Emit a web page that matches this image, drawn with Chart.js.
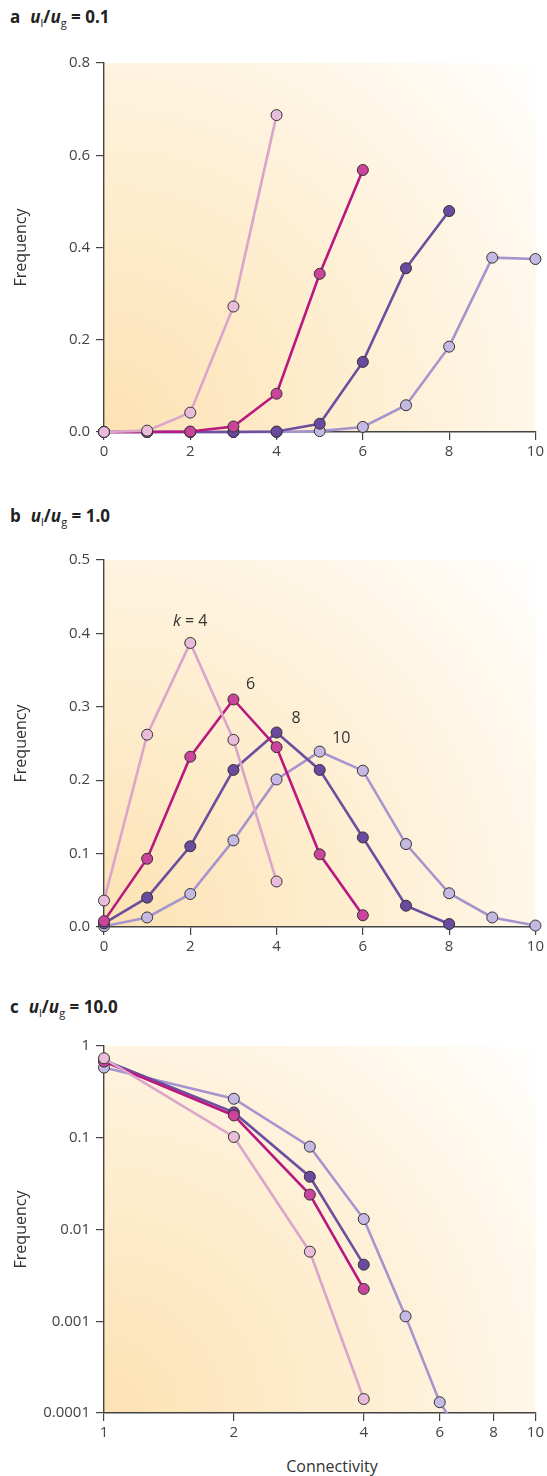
<!DOCTYPE html>
<html>
<head>
<meta charset="utf-8">
<script src="https://cdn.jsdelivr.net/npm/chart.js@4.4.1/dist/chart.umd.min.js"></script>
<style>
  body { margin: 0; background: #fff; width: 547px; height: 1476px; position: relative; overflow: hidden; font-family: 'Open Sans', sans-serif; }
  .panel { position: absolute; left: 0; width: 547px; }
  .ttl { position: absolute; left: 10px; font-size: 17px; font-weight: 700; color: #222; white-space: nowrap; }
  .ttl .lt { margin-right: 10px; }
  .ttl i { font-style: italic; }
  .ttl sub { font-size: 11px; font-weight: 400; vertical-align: -4px; line-height: 0; }
  #xlab { position: absolute; top: 1455px; left: 272px; width: 120px; text-align: center; font-size: 16px; color: #333; }
</style>
</head>
<body>
<div class="ttl" style="top:5px"><span class="lt">a</span><i>u</i><sub>l</sub>/<i>u</i><sub>g</sub> = 0.1</div>
<div class="ttl" style="top:504px"><span class="lt">b</span><i>u</i><sub>l</sub>/<i>u</i><sub>g</sub> = 1.0</div>
<div class="ttl" style="top:995px"><span class="lt">c</span><i>u</i><sub>l</sub>/<i>u</i><sub>g</sub> = 10.0</div>

<div class="panel" style="top:48px;height:424px"><canvas id="chartA"></canvas></div>
<div class="panel" style="top:545px;height:422px"><canvas id="chartB"></canvas></div>
<div class="panel" style="top:1031px;height:422px"><canvas id="chartC"></canvas></div>
<div id="xlab">Connectivity</div>

<script>
// panel a: u_l/u_g = 0.1
const A_K4  = [0, 0.003, 0.042, 0.272, 0.687];
const A_K6  = [0, 0, 0.001, 0.012, 0.083, 0.343, 0.568];
const A_K8  = [0, 0, 0, 0, 0.001, 0.018, 0.152, 0.355, 0.479];
const A_K10 = [0, 0, 0, 0, 0, 0.002, 0.011, 0.058, 0.185, 0.378, 0.375];
const A_YTICKS = [0, 0.2, 0.4, 0.6, 0.8];

// panel b: u_l/u_g = 1.0
const B_K4  = [0.036, 0.262, 0.387, 0.255, 0.062];
const B_K6  = [0.008, 0.093, 0.232, 0.310, 0.245, 0.099, 0.016];
const B_K8  = [0.005, 0.040, 0.110, 0.214, 0.265, 0.214, 0.122, 0.029, 0.004];
const B_K10 = [0.001, 0.013, 0.045, 0.118, 0.201, 0.239, 0.213, 0.113, 0.046, 0.013, 0.002];
const B_YTICKS = [0, 0.1, 0.2, 0.3, 0.4, 0.5];
const B_LABELS = [
  { text: 'k = 4', x: 2.0, y: 0.416 },
  { text: '6', x: 3.4, y: 0.331 },
  { text: '8', x: 4.45, y: 0.284 },
  { text: '10', x: 5.5, y: 0.257 }
];

// panel c: u_l/u_g = 10.0 (log-log), connectivity starts at 1
const C_K4  = [0.735, 0.102, 0.00573, 0.000142];
const C_K6  = [0.676, 0.175, 0.024, 0.00225];
const C_K8  = [0.70, 0.189, 0.0376, 0.00414];
const C_K10 = [0.582, 0.266, 0.080, 0.0130, 0.00113, 0.000131, 0.000043];
const C_XTICKS = [1, 2, 4, 6, 8, 10];
const C_YTICKS = [0.0001, 0.001, 0.01, 0.1, 1];

const X_TICKS_LIN = [0, 2, 4, 6, 8, 10];

const STYLE = [
  { line: '#dba5cb', fill: '#e9bcdb' },   // k = 4
  { line: '#b8187f', fill: '#c9449a' },   // k = 6
  { line: '#6c4f9f', fill: '#6a4a9e' },   // k = 8
  { line: '#a594cd', fill: '#c5b8e2' }    // k = 10
];
const AXIS = '#444';
const FONT = "'Open Sans', sans-serif";

function toPoints(values, start) {
  return values.map((v, i) => ({ x: i + start, y: v }));
}

function makeSets(series, start, clipBottom) {
  return series.map((vals, i) => ({
    data: toPoints(vals, start),
    borderColor: STYLE[i].line,
    backgroundColor: STYLE[i].fill,
    pointBackgroundColor: STYLE[i].fill,
    pointBorderColor: '#333',
    pointBorderWidth: 1,
    pointRadius: ctx => {
      const s = ctx.chart.scales.y;
      return ctx.raw && ctx.raw.y < s.min ? 0 : 5.5;
    },
    borderWidth: 2.6,
    tension: 0,
    clip: { left: 8, top: 8, right: 8, bottom: clipBottom }
  }));
}

const bgPlugin = {
  id: 'bg',
  beforeDraw(chart) {
    const { ctx, chartArea: a } = chart;
    const r = Math.hypot(a.right - a.left, a.bottom - a.top);
    const g = ctx.createRadialGradient(a.left, a.bottom, 0, a.left, a.bottom, r);
    g.addColorStop(0, '#fde2b3');
    g.addColorStop(0.45, '#feeed1');
    g.addColorStop(0.8, '#fff8ec');
    g.addColorStop(1, '#ffffff');
    ctx.save();
    ctx.fillStyle = g;
    ctx.fillRect(a.left, a.top, a.right - a.left, a.bottom - a.top);
    ctx.restore();
  }
};

const labelPlugin = {
  id: 'kLabels',
  afterDatasetsDraw(chart, args, opts) {
    if (!opts.items) return;
    const { ctx, scales } = chart;
    ctx.save();
    ctx.fillStyle = '#333';
    ctx.textBaseline = 'middle';
    opts.items.forEach(l => {
      const px = scales.x.getPixelForValue(l.x);
      const py = scales.y.getPixelForValue(l.y);
      if (l.text.startsWith('k')) {
        ctx.font = "italic 16px " + FONT;
        const w1 = ctx.measureText('k').width;
        ctx.font = "16px " + FONT;
        const rest = l.text.slice(1);
        const w2 = ctx.measureText(rest).width;
        const x0 = px - (w1 + w2) / 2;
        ctx.textAlign = 'left';
        ctx.font = "italic 16px " + FONT;
        ctx.fillText('k', x0, py);
        ctx.font = "16px " + FONT;
        ctx.fillText(rest, x0 + w1, py);
      } else {
        ctx.textAlign = 'center';
        ctx.font = "16px " + FONT;
        ctx.fillText(l.text, px, py);
      }
    });
    ctx.restore();
  }
};

function axisCommon() {
  return {
    grid: { drawOnChartArea: false, drawTicks: true, tickLength: 8, color: AXIS, lineWidth: 1.2 },
    border: { display: true, color: AXIS, width: 1.4 },
    ticks: { color: '#444', font: { family: FONT, size: 15 }, padding: 6, autoSkip: false, maxRotation: 0 }
  };
}

function makeChart(id, opts) {
  const x = axisCommon();
  const y = axisCommon();
  Object.assign(x, {
    type: opts.xType, min: opts.xMin, max: opts.xMax,
    afterBuildTicks: s => { s.ticks = opts.xTicks.map(v => ({ value: v })); },
    afterFit: s => { s.height = opts.xHeight; }
  });
  x.ticks.callback = v => String(v);
  x.ticks.padding = 3;
  Object.assign(y, {
    type: opts.yType, min: opts.yMin, max: opts.yMax,
    afterBuildTicks: s => { s.ticks = opts.yTicks.map(v => ({ value: v })); },
    afterFit: s => { s.width = 104; },
    title: { display: true, text: 'Frequency', color: '#333', font: { family: FONT, size: 16 }, padding: { top: 12, bottom: 0 } }
  });
  y.ticks.callback = opts.yFmt;

  return new Chart(document.getElementById(id), {
    type: 'line',
    data: { datasets: opts.datasets },
    options: {
      responsive: true,
      maintainAspectRatio: false,
      animation: false,
      layout: { padding: { top: 10, right: 10, left: 0, bottom: 0 } },
      plugins: { legend: { display: false }, tooltip: { enabled: false }, kLabels: { items: opts.labels } },
      scales: { x, y }
    },
    plugins: [bgPlugin, labelPlugin]
  });
}

makeChart('chartA', {
  datasets: makeSets([A_K4, A_K6, A_K8, A_K10], 0, 8),
  xType: 'linear', xMin: 0, xMax: 10, xTicks: X_TICKS_LIN,
  yType: 'linear', yMin: 0, yMax: 0.8, yTicks: A_YTICKS,
  yFmt: v => v.toFixed(1), xHeight: 40
});

makeChart('chartB', {
  datasets: makeSets([B_K4, B_K6, B_K8, B_K10], 0, 8),
  xType: 'linear', xMin: 0, xMax: 10, xTicks: X_TICKS_LIN,
  yType: 'linear', yMin: 0, yMax: 0.5, yTicks: B_YTICKS,
  yFmt: v => v.toFixed(1), xHeight: 40, labels: B_LABELS
});

makeChart('chartC', {
  datasets: makeSets([C_K4, C_K6, C_K8, C_K10], 1, 0),
  xType: 'logarithmic', xMin: 1, xMax: 10, xTicks: C_XTICKS,
  yType: 'logarithmic', yMin: 0.0001, yMax: 1, yTicks: C_YTICKS,
  yFmt: v => String(v), xHeight: 40
});
</script>
</body>
</html>
